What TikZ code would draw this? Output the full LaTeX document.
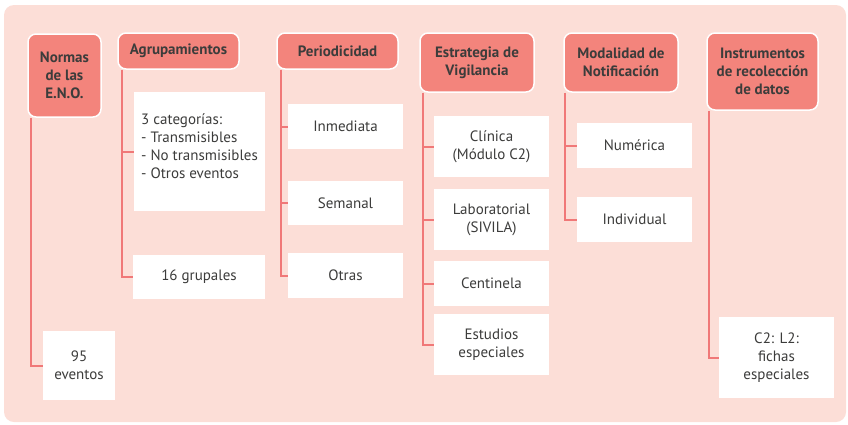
\documentclass[tikz,border=0pt]{standalone}
\usepackage{fontspec}
\setmainfont{PT Sans}
\definecolor{bgpink}{RGB}{252,222,215}
\definecolor{hdrred}{RGB}{243,132,124}
\definecolor{linkred}{RGB}{240,120,120}
\definecolor{txtgray}{RGB}{60,60,59}

\begin{document}
\begin{tikzpicture}[x=1pt,y=-1pt,
  hdr/.style={draw=white, line width=1.5pt, fill=hdrred, rounded corners=8pt,
    font=\fontsize{15}{18}\selectfont\bfseries, text=txtgray, align=center, inner sep=2pt},
  box/.style={fill=white, font=\fontsize{15}{18}\selectfont, text=txtgray,
    align=center, inner sep=2pt},
  link/.style={draw=linkred, line width=2pt}]

\useasboundingbox (0,0) rectangle (848,424);
\fill[bgpink, rounded corners=10pt] (4,5) rectangle (846,422);

% headers
\node[hdr, minimum width=73pt, minimum height=83pt] (norm) at (64.5,75.5) {Normas\\de las\\E.N.O.};
\node[hdr, minimum width=121pt, minimum height=36pt] (agr) at (178.5,51) {Agrupamientos};
\node[hdr, minimum width=121pt, minimum height=36pt] (per) at (337.5,51) {Periodicidad};
\node[hdr, minimum width=114pt, minimum height=59pt] (est) at (477,62.5) {Estrategia de\\Vigilancia};
\node[hdr, minimum width=114pt, minimum height=59pt] (mod) at (621,62.5) {Modalidad de\\Notificación};
\node[hdr, minimum width=111pt, minimum height=77pt] (ins) at (762.5,71.5) {Instrumentos\\de recolección\\de datos};

% white boxes
\node[box, minimum width=72pt, minimum height=69pt] (ev) at (79,365.5) {95\\eventos};
\node[box, minimum width=131pt, minimum height=119pt, align=left] (cat) at (199.5,151.5)
  {3 categorías:\\- Transmisibles\\- No transmisibles\\- Otros eventos\\[-8pt]};
\node[box, minimum width=132pt, minimum height=44pt] (gru) at (199,277) {16 grupales};
\node[box, minimum width=115pt, minimum height=45pt] (inm) at (345.5,126.5) {Inmediata};
\node[box, minimum width=115pt, minimum height=44pt] (sem) at (345.5,203) {Semanal};
\node[box, minimum width=115pt, minimum height=45pt] (otr) at (345.5,275.5) {Otras};
\node[box, minimum width=115pt, minimum height=61pt] (cli) at (491.5,146.5) {Clínica\\(Módulo C2)};
\node[box, minimum width=115pt, minimum height=61pt] (lab) at (491.5,219.5) {Laboratorial\\(SIVILA)};
\node[box, minimum width=115pt, minimum height=45pt] (cen) at (491.5,283.5) {Centinela};
\node[box, minimum width=115pt, minimum height=61pt] (estu) at (491.5,344.5) {Estudios\\especiales};
\node[box, minimum width=115pt, minimum height=45pt] (num) at (634.5,145.5) {Numérica};
\node[box, minimum width=115pt, minimum height=45pt] (ind) at (634.5,219.5) {Individual};
\node[box, minimum width=115pt, minimum height=81pt] (c2) at (776.5,357.5) {C2: L2:\\fichas\\especiales};

% connectors
\draw[link] ([xshift=4pt]norm.south west) |- (ev.west);
\draw[link] ([xshift=5pt]agr.south west) |- (cat.west);
\draw[link] ([xshift=5pt]agr.south west) |- (gru.west);
\foreach \b in {inm,sem,otr}
  \draw[link] ([xshift=5pt]per.south west) |- (\b.west);
\foreach \b in {cli,lab,cen,estu}
  \draw[link] ([xshift=4pt]est.south west) |- (\b.west);
\foreach \b in {num,ind}
  \draw[link] ([xshift=2pt]mod.south west) |- (\b.west);
\draw[link] ([xshift=3pt]ins.south west) |- (c2.west);

\end{tikzpicture}
\end{document}
